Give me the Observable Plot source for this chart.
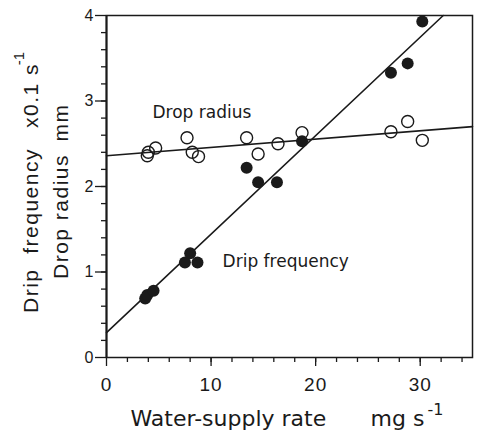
<!DOCTYPE html>
<html><head><meta charset="utf-8">
<script src="https://cdn.jsdelivr.net/npm/d3@7"></script>
<script src="https://cdn.jsdelivr.net/npm/@observablehq/plot@0.6"></script>
<style>
body{margin:0;background:#fff}
g[aria-description="spaced"] text{letter-spacing:1.5px}
g[aria-description="spacedx"] text{letter-spacing:1px}
</style></head><body><div id="chart"></div>
<script>
// Drip frequency (filled circles), x0.1 s^-1
const freqX = [3.7, 3.9, 4.5, 7.5, 8.0, 8.7, 13.4, 14.5, 16.3, 18.7, 27.2, 28.8, 30.2];
const freqY = [0.69, 0.73, 0.78, 1.11, 1.22, 1.11, 2.22, 2.05, 2.05, 2.53, 3.33, 3.44, 3.93];
// Drop radius (open circles), mm
const radX = [3.9, 4.0, 4.7, 7.7, 8.2, 8.8, 13.4, 14.5, 16.4, 18.7, 27.2, 28.8, 30.2];
const radY = [2.36, 2.40, 2.45, 2.57, 2.40, 2.35, 2.57, 2.38, 2.50, 2.63, 2.64, 2.76, 2.54];
// fitted lines (endpoints)
const freqFitX = [0, 32.2], freqFitY = [0.29, 4.0];
const radFitX = [0, 35], radFitY = [2.36, 2.70];
// ticks
const xTicks = [0, 10, 20, 30];
const yTicks = [0, 1, 2, 3, 4];
const xMinor = d3.range(2, 35, 2);
const yMinor = d3.range(0.2, 4, 0.2);

const freq = freqX.map((x, i) => ({x, y: freqY[i]}));
const rad = radX.map((x, i) => ({x, y: radY[i]}));
const freqFit = freqFitX.map((x, i) => ({x, y: freqFitY[i]}));
const radFit = radFitX.map((x, i) => ({x, y: radFitY[i]}));

const ML = 106, MT = 15;
const SANS = "Liberation Sans, Arial, sans-serif";
const HUM = "DejaVu Sans, sans-serif";
const INK = "#1a1a1a";
function lab(text, px, py, o = {}) {
  return Plot.text([text], {text: d => d, frameAnchor: "top-left", dx: px - ML, dy: py - MT,
    fill: INK, textAnchor: "middle", lineAnchor: "middle", ...o});
}

const chart = Plot.plot({
  width: 479, height: 434,
  marginLeft: ML, marginRight: 7, marginTop: MT, marginBottom: 77,
  x: {domain: [0, 35]},
  y: {domain: [0, 4]},
  style: {fontFamily: SANS, color: INK, background: "#fff"},
  marks: [
    Plot.axisX(xMinor, {tickSize: 5, tickFormat: () => "", label: null, stroke: INK, strokeWidth: 1.3}),
    Plot.axisX(xTicks, {tickSize: 9, tickPadding: 11, fontSize: 19, tickFormat: d => String(d), label: null, stroke: INK, strokeWidth: 1.3, fill: INK, ariaDescription: "spacedx"}),
    Plot.axisY(yMinor, {tickSize: 5, tickFormat: () => "", label: null, stroke: INK, strokeWidth: 1.3}),
    Plot.axisY(yTicks, {tickSize: 11, tickPadding: 2, fontSize: 16, tickFormat: d => String(d), label: null, stroke: INK, strokeWidth: 1.3, fill: INK}),
    Plot.frame({stroke: INK, strokeWidth: 1.5}),
    Plot.ruleX([0], {stroke: INK, strokeWidth: 2}),
    Plot.line(freqFit, {x: "x", y: "y", stroke: INK, strokeWidth: 1.6}),
    Plot.line(radFit, {x: "x", y: "y", stroke: INK, strokeWidth: 1.6}),
    Plot.dot(rad, {x: "x", y: "y", r: 6, stroke: INK, fill: "none", strokeWidth: 1.4}),
    Plot.dot(freq, {x: "x", y: "y", r: 6, fill: INK, stroke: "none"}),
    Plot.text(["Drop radius"], {text: d => d, x: 4.4, y: 2.87, textAnchor: "start", fontSize: 17, fontFamily: HUM, fill: INK}),
    Plot.text(["Drip frequency"], {text: d => d, x: 11.1, y: 1.12, textAnchor: "start", fontSize: 17, fontFamily: HUM, fill: INK}),
    // axis titles
    lab("Water-supply rate", 130, 418, {textAnchor: "start", fontSize: 22, fontFamily: HUM}),
    lab("mg s", 370, 418, {textAnchor: "start", fontSize: 22, fontFamily: HUM}),
    lab("-1", 427, 409, {textAnchor: "start", fontSize: 16, fontFamily: HUM}),
    lab("Drip  frequency", 31, 230, {rotate: -90, fontSize: 21, ariaDescription: "spaced"}),
    lab("x0.1 s", 31, 95, {rotate: -90, fontSize: 21, ariaDescription: "spaced"}),
    lab("-1", 19, 58, {rotate: -90, fontSize: 15}),
    lab("Drop radius", 61, 216, {rotate: -90, fontSize: 21, ariaDescription: "spaced"}),
    lab("mm", 61, 122, {rotate: -90, fontSize: 21, ariaDescription: "spaced"})
  ]
});
document.getElementById("chart").appendChild(chart);
</script></body></html>
